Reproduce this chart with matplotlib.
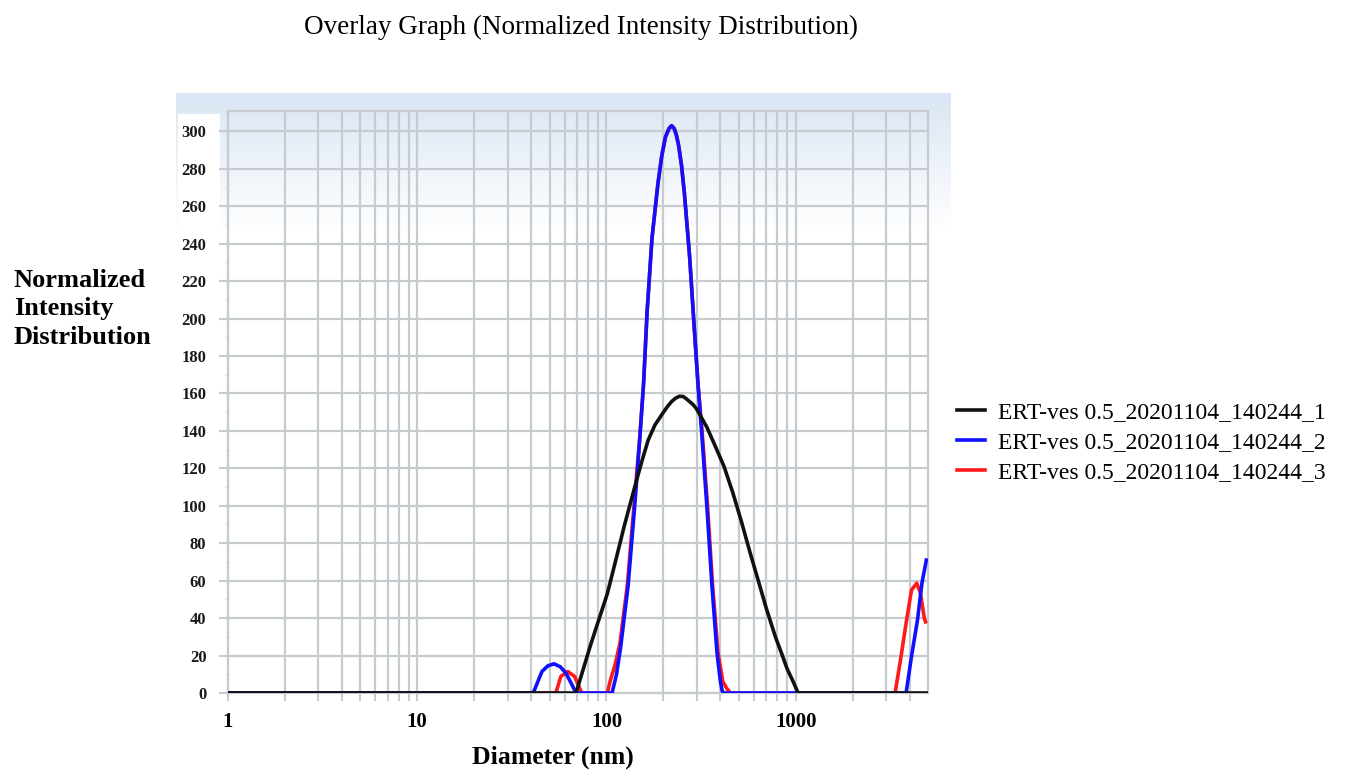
import numpy as np
import matplotlib.pyplot as plt
from matplotlib.patches import Rectangle
from matplotlib.ticker import FixedLocator, NullFormatter

# Datos
d1 = [1, 69, 75, 82, 91, 101, 112, 124, 141, 153, 166, 180, 197, 210, 220, 232, 243, 255, 265, 276, 287,
      298, 310, 339, 375, 418, 465, 515, 570, 634, 700, 781, 850, 900, 960, 1030, 5000]
v1 = [0, 0, 12, 25, 39, 53, 71, 89, 110, 123, 135, 143, 149, 153, 155.5, 157.5, 158.5, 158.3, 157, 155.5, 154,
      152, 149, 142, 132, 121, 107, 92, 76, 60, 45, 30, 20, 13, 7, 0, 0]

d2 = [1, 41, 45.6, 49, 52.8, 57, 61, 66, 69, 107, 113, 119, 130, 141, 150, 157, 164, 174, 187, 196, 205,
      214, 221, 228, 234, 240, 249, 258, 275, 287, 305, 318, 339, 361, 384, 400, 409, 417, 3830, 4090, 4400,
      4650, 4900]
v2 = [0, 0, 11.5, 14.5, 15.6, 14, 10.7, 4, 0, 0, 10, 25, 57, 100, 136, 165, 204, 243, 272, 287, 297,
      301.5, 303, 301.5, 298, 293, 282, 267, 233, 204, 164, 140, 100, 57, 21, 6, 1, 0, 0, 19.5, 39,
      59, 71]

d3 = [1, 54, 57.4, 62.4, 67.8, 74, 101, 105, 111, 118, 129, 140, 150, 157, 164, 174, 187, 196, 205, 214,
      221, 228, 234, 240, 249, 258, 275, 287, 305, 320, 342, 364, 388, 412, 435, 454, 3350, 3580, 3830,
      4090, 4360, 4560, 4780, 4850]
v3 = [0, 0, 8.9, 11.5, 8.9, 0, 0, 7, 15, 27, 58, 101, 137, 165, 204, 243, 272, 287, 297, 301.5,
      303, 301.5, 298, 293, 282, 267, 233, 204, 164, 140, 100, 57, 22, 6, 2, 0, 0, 17.8, 37.3,
      55, 58.7, 53.3, 40, 38]

etiquetas = ["ERT-ves 0.5_20201104_140244_1",
             "ERT-ves 0.5_20201104_140244_2",
             "ERT-ves 0.5_20201104_140244_3"]
x_ticks = [1, 10, 100, 1000]
y_ticks = list(range(0, 301, 20))

W, H = 1348, 771
fig = plt.figure(figsize=(W / 100, H / 100), dpi=100)
plt.rcParams['font.family'] = ['Liberation Serif', 'DejaVu Serif']

def fx(px):
    return px / W

def fy(py):
    return 1 - py / H

# fondo degradado azul
ax_bg = fig.add_axes([fx(176), fy(232), fx(950 - 176), (232 - 93) / H], zorder=0)
grad = np.linspace(0, 1, 100).reshape(-1, 1)
top = np.array([0.855, 0.902, 0.957])
img = top[None, None, :] * (1 - grad[:, :, None]) + np.ones(3)[None, None, :] * grad[:, :, None]
ax_bg.imshow(img, aspect='auto', extent=[0, 1, 0, 1], origin='upper')
ax_bg.axis('off')
fig.patches.append(Rectangle((fx(178), fy(232)), fx(42), (232 - 114) / H,
                             transform=fig.transFigure, facecolor='white', edgecolor='none', zorder=0.5))

ax = fig.add_axes([fx(228), fy(693), fx(928 - 228), (693 - 110.7) / H], zorder=1)
ax.set_facecolor('none')
gris = '#c6cbd0'

ax.plot(d3, v3, color='#ff1a1a', lw=2.6, label=etiquetas[2], zorder=3)
ax.plot(d2, v2, color='#1010ff', lw=2.6, label=etiquetas[1], zorder=4)
ax.plot(d1, v1, color='#111111', lw=2.6, label=etiquetas[0], zorder=5)

ax.set_xscale('log')
ax.set_xlim(1, 5000)
ax.set_ylim(0, 311)

menores = [m * 10 ** e for e in range(0, 4) for m in range(2, 10) if m * 10 ** e < 5000]
ax.xaxis.set_major_locator(FixedLocator(x_ticks))
ax.xaxis.set_minor_locator(FixedLocator(menores))
ax.xaxis.set_minor_formatter(NullFormatter())
ax.set_xticklabels([str(t) for t in x_ticks], fontsize=15, fontweight='bold')
ax.set_yticks(y_ticks)
ax.set_yticklabels([str(t) for t in y_ticks], fontsize=12, fontweight='bold', color='#1a1a1a')
ax.yaxis.set_minor_locator(FixedLocator(list(range(10, 311, 20))))

ax.tick_params(axis='x', which='both', direction='out', length=6, width=1.5, color=gris, pad=8)
ax.tick_params(axis='y', which='major', direction='out', length=6.5, width=1.5, color=gris, pad=9)
ax.tick_params(axis='y', which='minor', direction='out', length=2, width=1, color='#d8dcdf')

ax.grid(True, which='both', axis='x', color=gris, lw=1.6)
ax.grid(True, which='major', axis='y', color=gris, lw=1.6)
ax.set_axisbelow(True)
for s in ax.spines.values():
    s.set_color(gris)
    s.set_linewidth(1.6)

fig.text(fx(581), fy(27), "Overlay Graph (Normalized Intensity Distribution)",
         ha='center', va='center', fontsize=19.5)
fig.text(fx(14), fy(309), "Normalized\nIntensity\nDistribution", ha='left', va='center',
         fontsize=19, fontweight='bold', linespacing=1.3)
fig.text(fx(553), fy(746), "Diameter (nm)", ha='center', va='top', fontsize=18.5, fontweight='bold')

handles, labels = ax.get_legend_handles_labels()
orden = [2, 1, 0]
fig.legend([handles[i] for i in orden], [labels[i] for i in orden],
           loc='upper left', bbox_to_anchor=(fx(945), fy(390)), frameon=False,
           fontsize=17, handlelength=1.2, handletextpad=0.55, labelspacing=0.36, borderpad=0)

fig.savefig('out.png', dpi=100)
